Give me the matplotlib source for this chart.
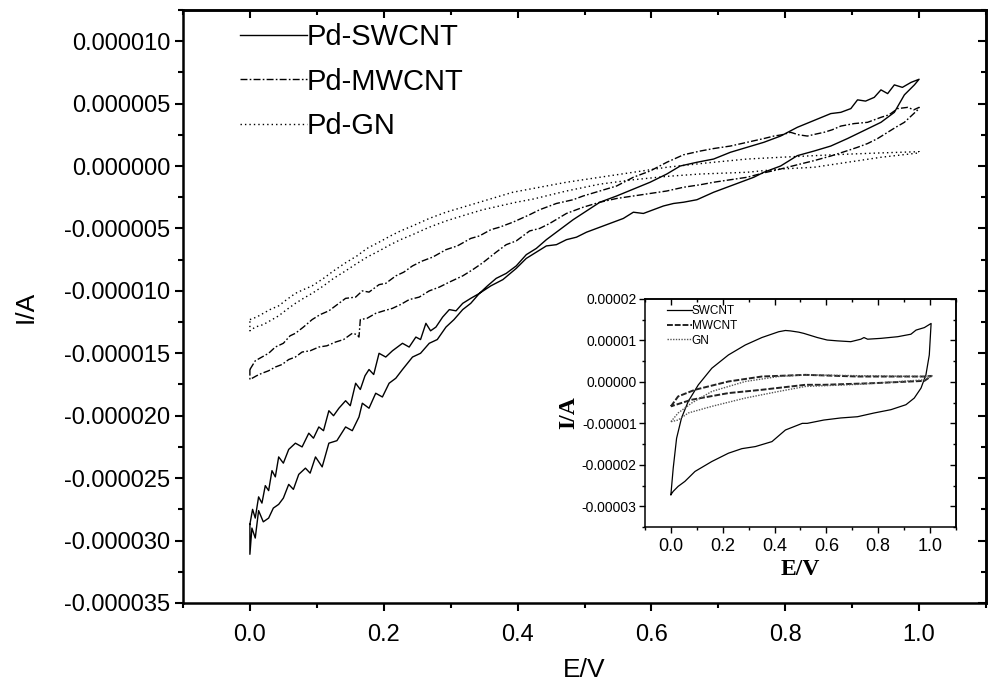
import numpy as np
import matplotlib
matplotlib.use("Agg")
import matplotlib.pyplot as plt
from matplotlib.ticker import MultipleLocator, FuncFormatter

plt.rcParams['font.family'] = ['Liberation Sans', 'DejaVu Sans']
plt.rcParams['axes.unicode_minus'] = False

# ---------------- main plot data (E in V, I in microamps) ----------------
swcnt_up_E = [0.000, 0.004, 0.008, 0.013, 0.018, 0.023, 0.028, 0.033, 0.038, 0.043, 0.050, 0.058, 0.068, 0.078,
              0.088, 0.095, 0.103, 0.110, 0.118, 0.125, 0.133, 0.143, 0.150, 0.158, 0.165, 0.172, 0.178, 0.185,
              0.193, 0.203, 0.213, 0.228, 0.238, 0.248, 0.255, 0.263, 0.270, 0.278, 0.288, 0.298, 0.308, 0.318,
              0.330, 0.343, 0.355, 0.368, 0.383, 0.398, 0.413, 0.428, 0.443, 0.463, 0.483, 0.503, 0.523, 0.548,
              0.573, 0.598, 0.623, 0.643, 0.668, 0.693, 0.718, 0.743, 0.768, 0.793, 0.818, 0.843, 0.868, 0.883,
              0.898, 0.908, 0.920, 0.933, 0.943, 0.953, 0.963, 0.975, 0.988, 1.000]
swcnt_up_I = [-28.7, -27.5, -28.2, -26.5, -27.0, -25.6, -26.0, -24.4, -24.9, -23.3, -23.8, -22.7, -22.2, -22.5,
              -21.4, -21.8, -20.9, -21.2, -19.6, -20.0, -19.4, -18.8, -19.2, -17.4, -17.9, -16.8, -16.3, -16.7,
              -15.0, -15.3, -14.8, -14.2, -14.5, -13.7, -13.9, -12.6, -13.2, -12.9, -12.1, -11.5, -11.6, -11.0,
              -10.6, -10.2, -9.6, -9.0, -8.6, -8.0, -7.1, -6.6, -5.9, -5.1, -4.3, -3.6, -2.9, -2.4,
              -1.85, -1.3, -0.64, 0.0, 0.3, 0.56, 1.1, 1.5, 1.9, 2.4, 3.1, 3.65, 4.2, 4.3,
              4.6, 5.3, 5.2, 5.5, 6.1, 5.8, 6.5, 6.3, 6.7, 6.95]
swcnt_dn_E = [0.000, 0.003, 0.008, 0.013, 0.020, 0.028, 0.035, 0.043, 0.050, 0.058, 0.065, 0.073, 0.083, 0.090,
              0.098, 0.108, 0.118, 0.130, 0.143, 0.153, 0.163, 0.168, 0.178, 0.188, 0.198, 0.208, 0.218, 0.228,
              0.243, 0.255, 0.268, 0.280, 0.293, 0.305, 0.318, 0.330, 0.343, 0.360, 0.378, 0.398, 0.413, 0.428,
              0.443, 0.458, 0.473, 0.488, 0.503, 0.523, 0.543, 0.558, 0.573, 0.588, 0.603, 0.618, 0.633, 0.648,
              0.668, 0.693, 0.713, 0.733, 0.753, 0.768, 0.793, 0.818, 0.843, 0.868, 0.893, 0.918, 0.943, 0.963,
              0.978, 0.993, 1.000]
swcnt_dn_I = [-31.1, -29.0, -29.8, -27.6, -28.5, -28.2, -27.4, -27.1, -26.6, -25.5, -25.9, -24.7, -24.2, -24.6,
              -23.3, -24.1, -22.2, -22.0, -20.9, -21.2, -20.1, -19.0, -19.4, -18.2, -18.5, -17.4, -17.0, -16.3,
              -15.3, -15.0, -14.2, -13.9, -12.9, -12.3, -11.5, -11.0, -10.2, -9.6, -9.1, -8.2, -7.4, -6.9,
              -6.4, -6.3, -5.9, -5.7, -5.3, -4.9, -4.5, -4.2, -3.7, -3.8, -3.5, -3.2, -3.0, -2.9,
              -2.7, -2.1, -1.7, -1.3, -0.9, -0.5, 0.0, 0.83, 1.2, 1.6, 2.2, 2.85, 3.5, 4.3,
              5.7, 6.5, 6.95]

mwcnt_up_E = [0.000, 0.008, 0.018, 0.028, 0.038, 0.050, 0.060, 0.068, 0.080, 0.093, 0.105, 0.118, 0.133, 0.143,
              0.158, 0.168, 0.178, 0.193, 0.203, 0.218, 0.230, 0.243, 0.258, 0.273, 0.293, 0.310, 0.330, 0.343,
              0.360, 0.373, 0.393, 0.418, 0.433, 0.458, 0.483, 0.498, 0.523, 0.548, 0.573, 0.598, 0.623, 0.648,
              0.673, 0.693, 0.718, 0.743, 0.768, 0.783, 0.795, 0.808, 0.820, 0.833, 0.845, 0.858, 0.870, 0.883,
              0.903, 0.923, 0.943, 0.955, 0.968, 0.983, 0.992, 1.000]
mwcnt_up_I = [-16.3, -15.6, -15.3, -15.0, -14.5, -14.2, -13.6, -13.4, -12.9, -12.3, -11.9, -11.6, -11.0, -10.6,
              -10.5, -10.0, -10.1, -9.5, -9.4, -8.8, -8.5, -8.0, -7.6, -7.3, -6.7, -6.4, -5.8, -5.6,
              -5.1, -4.9, -4.5, -3.9, -3.5, -3.0, -2.7, -2.4, -2.0, -1.6, -0.9, -0.4, 0.3, 0.9,
              1.2, 1.4, 1.6, 1.9, 2.2, 2.4, 2.5, 2.7, 2.5, 2.4, 2.55, 2.7, 2.9, 3.2,
              3.4, 3.5, 3.9, 4.1, 4.6, 4.7, 4.5, 4.7]
mwcnt_dn_E = [0.000, 0.010, 0.018, 0.028, 0.038, 0.048, 0.058, 0.068, 0.078, 0.090, 0.103, 0.115, 0.128, 0.140,
              0.153, 0.160, 0.163, 0.165, 0.175, 0.188, 0.200, 0.213, 0.225, 0.238, 0.253, 0.268, 0.283, 0.298,
              0.318, 0.333, 0.348, 0.368, 0.383, 0.398, 0.418, 0.433, 0.448, 0.473, 0.498, 0.523, 0.548, 0.573,
              0.598, 0.623, 0.648, 0.673, 0.693, 0.718, 0.743, 0.768, 0.793, 0.818, 0.843, 0.868, 0.893, 0.908,
              0.923, 0.938, 0.953, 0.965, 0.978, 0.990, 1.000]
mwcnt_dn_I = [-17.1, -16.8, -16.6, -16.4, -16.1, -15.9, -15.5, -15.3, -14.9, -14.8, -14.5, -14.4, -14.1, -13.9,
              -13.4, -13.5, -13.7, -12.3, -12.2, -11.8, -11.6, -11.4, -11.1, -10.7, -10.5, -10.0, -9.7, -9.3,
              -8.8, -8.3, -7.75, -6.9, -6.3, -6.0, -5.2, -5.0, -4.6, -3.8, -3.3, -2.9, -2.6, -2.4,
              -2.2, -2.0, -1.7, -1.5, -1.3, -1.1, -0.9, -0.55, -0.24, 0.1, 0.43, 0.8, 1.23, 1.5,
              1.8, 2.2, 2.7, 3.1, 3.5, 4.1, 4.6]

gn_up_E = [0.000, 0.010, 0.020, 0.030, 0.043, 0.055, 0.068, 0.080, 0.093, 0.110, 0.125, 0.143, 0.160, 0.175,
           0.193, 0.210, 0.225, 0.243, 0.268, 0.293, 0.318, 0.343, 0.368, 0.393, 0.423, 0.473, 0.523, 0.573,
           0.623, 0.683, 0.743, 0.793, 0.843, 0.893, 0.943, 1.000]
gn_up_I = [-12.3, -12.1, -11.8, -11.5, -11.2, -10.7, -10.2, -9.9, -9.6, -9.0, -8.4, -7.75, -7.2, -6.6,
           -6.1, -5.6, -5.2, -4.8, -4.2, -3.7, -3.3, -2.9, -2.5, -2.1, -1.8, -1.3, -0.9, -0.5,
           -0.1, 0.25, 0.56, 0.7, 0.83, 0.95, 1.05, 1.15]
gn_dn_E = [0.000, 0.008, 0.020, 0.030, 0.043, 0.055, 0.068, 0.080, 0.093, 0.110, 0.125, 0.143, 0.160, 0.175,
           0.193, 0.210, 0.225, 0.243, 0.268, 0.293, 0.323, 0.348, 0.373, 0.398, 0.423, 0.473, 0.523, 0.573,
           0.623, 0.673, 0.743, 0.793, 0.843, 0.893, 0.943, 1.000]
gn_dn_I = [-13.2, -12.9, -12.7, -12.4, -12.0, -11.5, -11.0, -10.6, -10.2, -9.6, -9.0, -8.4, -7.8, -7.3,
           -6.8, -6.3, -5.9, -5.5, -4.9, -4.4, -3.9, -3.5, -3.2, -2.9, -2.65, -2.0, -1.45, -1.1,
           -0.83, -0.64, -0.5, -0.24, -0.1, 0.3, 0.7, 1.05]

main_labels = ["Pd-SWCNT", "Pd-MWCNT", "Pd-GN"]

# ---------------- inset data (E in V, I in microamps) ----------------
in_sw_up_E = [0.000, 0.009, 0.022, 0.041, 0.067, 0.106, 0.158, 0.222, 0.287, 0.351, 0.416, 0.442, 0.461, 0.493,
              0.513, 0.565, 0.603, 0.642, 0.694, 0.733, 0.745, 0.759, 0.810, 0.875, 0.926, 0.946, 0.978, 1.004]
in_sw_up_I = [-27.2, -20.8, -13.6, -8.7, -4.7, -0.7, 3.3, 6.5, 8.9, 10.7, 12.1, 12.4, 12.3, 12.0,
              11.7, 10.7, 10.1, 9.9, 9.7, 10.3, 10.7, 10.3, 10.5, 10.9, 11.5, 12.5, 13.1, 14.1]
in_sw_dn_E = [0.000, 0.009, 0.028, 0.054, 0.093, 0.158, 0.222, 0.274, 0.326, 0.390, 0.442, 0.507, 0.526, 0.590,
              0.655, 0.720, 0.784, 0.849, 0.907, 0.939, 0.965, 0.984, 0.997, 1.004]
in_sw_dn_I = [-27.2, -26.4, -25.2, -24.0, -21.6, -19.2, -17.2, -16.1, -15.6, -14.4, -11.6, -10.0, -10.0, -9.2,
              -8.7, -8.4, -7.5, -6.7, -5.5, -3.9, -1.5, 1.7, 6.5, 14.1]
in_mw_up_E = [0.000, 0.028, 0.093, 0.222, 0.351, 0.519, 0.720, 0.978, 1.006]
in_mw_up_I = [-5.9, -3.5, -1.9, 0.1, 1.3, 1.7, 1.3, 1.3, 1.45]
in_mw_dn_E = [0.000, 0.080, 0.222, 0.351, 0.519, 0.590, 0.784, 0.978, 1.006]
in_mw_dn_I = [-5.9, -4.3, -2.7, -1.9, -0.7, -0.7, -0.3, 0.25, 1.45]
in_gn_up_E = [0.000, 0.028, 0.080, 0.158, 0.287, 0.416, 0.519, 0.720, 0.978, 1.006]
in_gn_up_I = [-9.6, -7.5, -5.1, -2.3, 0.1, 1.3, 1.7, 1.5, 1.3, 1.45]
in_gn_dn_E = [0.000, 0.028, 0.067, 0.158, 0.287, 0.416, 0.519, 0.720, 0.978, 1.006]
in_gn_dn_I = [-9.6, -9.2, -7.5, -5.9, -3.9, -2.3, -1.1, -0.6, 0.5, 1.45]

inset_labels = ["SWCNT", "MWCNT", "GN"]


def loop(upE, upI, dnE, dnI):
    E = np.concatenate([upE, dnE[::-1], upE[:1]])
    I = np.concatenate([upI, dnI[::-1], upI[:1]]) * 1e-6
    return E, I


DASHDOT = (0, (5, 1.6, 1.2, 1.6))
DOTTED = (0, (1.0, 2.2))

fig = plt.figure(figsize=(9.88, 6.87), dpi=100)
ax = fig.add_axes([0.1852, 0.1223, 0.8128, 0.8632])

for (uE, uI, dE, dI), ls, lab in [
        ((swcnt_up_E, swcnt_up_I, swcnt_dn_E, swcnt_dn_I), '-', main_labels[0]),
        ((mwcnt_up_E, mwcnt_up_I, mwcnt_dn_E, mwcnt_dn_I), DASHDOT, main_labels[1]),
        ((gn_up_E, gn_up_I, gn_dn_E, gn_dn_I), DOTTED, main_labels[2])]:
    E, I = loop(np.array(uE), np.array(uI), np.array(dE), np.array(dI))
    ax.plot(E, I, color='black', lw=1.0, linestyle=ls, label=lab)

ax.set_xlim(-0.1, 1.1)
ax.set_ylim(-35e-6, 12.5e-6)
ax.xaxis.set_major_locator(MultipleLocator(0.2))
ax.xaxis.set_minor_locator(MultipleLocator(0.1))
ax.yaxis.set_major_locator(MultipleLocator(5e-6))
ax.yaxis.set_minor_locator(MultipleLocator(2.5e-6))


def yfmt6(v, _):
    if abs(v) < 1e-12:
        v = 0.0
    return f"{v:.6f}"


ax.yaxis.set_major_formatter(FuncFormatter(yfmt6))
ax.xaxis.set_major_formatter(FuncFormatter(lambda v, _: f"{v:.1f}"))
for s in ax.spines.values():
    s.set_linewidth(1.8)
ax.tick_params(which='both', direction='out', width=1.5, labelsize=17, top=False, right=False)
ax.tick_params(which='major', length=6)
ax.tick_params(which='minor', length=3.5)
ax.tick_params(axis='x', pad=9)
ax.tick_params(axis='y', pad=3)
# mirrored inward ticks on top / right
axt = ax.secondary_xaxis('top')
axt.xaxis.set_major_locator(MultipleLocator(0.2))
axt.xaxis.set_minor_locator(MultipleLocator(0.1))
axt.tick_params(which='both', direction='in', width=1.5, labeltop=False)
axt.tick_params(which='major', length=6)
axt.tick_params(which='minor', length=3.5)
axt.spines['top'].set_linewidth(1.8)
axr = ax.secondary_yaxis('right')
axr.yaxis.set_major_locator(MultipleLocator(5e-6))
axr.yaxis.set_minor_locator(MultipleLocator(2.5e-6))
axr.tick_params(which='both', direction='in', width=1.5, labelright=False)
axr.tick_params(which='major', length=6)
axr.tick_params(which='minor', length=3.5)
axr.spines['right'].set_linewidth(1.8)

ax.set_xlabel("E/V", fontsize=19, labelpad=9)
ax.set_ylabel("I/A", fontsize=19, labelpad=19)

ax.legend(loc='upper left', bbox_to_anchor=(0.071, 0.978), frameon=False, fontsize=21,
          handlelength=2.3, handletextpad=0.0, labelspacing=0.57, borderpad=0, borderaxespad=0)

# ---------------- inset ----------------
ia = fig.add_axes([0.6528, 0.2329, 0.3148, 0.3319])
for (uE, uI, dE, dI), ls, lw, col, lab in [
        ((in_sw_up_E, in_sw_up_I, in_sw_dn_E, in_sw_dn_I), '-', 0.9, 'black', inset_labels[0]),
        ((in_mw_up_E, in_mw_up_I, in_mw_dn_E, in_mw_dn_I), (0, (3, 1)), 1.4, '#222222', inset_labels[1]),
        ((in_gn_up_E, in_gn_up_I, in_gn_dn_E, in_gn_dn_I), (0, (1, 1)), 1.0, '#555555', inset_labels[2])]:
    E, I = loop(np.array(uE), np.array(uI), np.array(dE), np.array(dI))
    ia.plot(E, I, color=col, lw=lw, linestyle=ls, label=lab)

ia.set_xlim(-0.1, 1.1)
ia.set_ylim(-35e-6, 20e-6)
ia.xaxis.set_major_locator(MultipleLocator(0.2))
ia.xaxis.set_minor_locator(MultipleLocator(0.1))
ia.yaxis.set_major_locator(MultipleLocator(1e-5))
ia.yaxis.set_minor_locator(MultipleLocator(5e-6))


def yfmt5(v, _):
    if abs(v) < 1e-12:
        v = 0.0
    return f"{v:.5f}"


ia.yaxis.set_major_formatter(FuncFormatter(yfmt5))
ia.xaxis.set_major_formatter(FuncFormatter(lambda v, _: f"{v:.1f}"))
for s in ia.spines.values():
    s.set_linewidth(1.1)
ia.tick_params(which='both', direction='out', width=1.0, top=False, right=False)
ia.tick_params(which='major', length=4)
ia.tick_params(which='minor', length=2.5)
ia.tick_params(axis='y', labelsize=10, pad=2)
ia.tick_params(axis='x', labelsize=13, pad=4)
iat = ia.secondary_xaxis('top')
iat.xaxis.set_major_locator(MultipleLocator(0.2))
iat.xaxis.set_minor_locator(MultipleLocator(0.1))
iat.tick_params(which='both', direction='in', width=1.0, labeltop=False)
iat.tick_params(which='major', length=4)
iat.tick_params(which='minor', length=2.5)
iat.spines['top'].set_linewidth(1.1)
iar = ia.secondary_yaxis('right')
iar.yaxis.set_major_locator(MultipleLocator(1e-5))
iar.yaxis.set_minor_locator(MultipleLocator(5e-6))
iar.tick_params(which='both', direction='in', width=1.0, labelright=False)
iar.tick_params(which='major', length=4)
iar.tick_params(which='minor', length=2.5)
iar.spines['right'].set_linewidth(1.1)

ia.set_xlabel("E/V", fontsize=17, fontweight='bold', family=['Liberation Serif'], labelpad=3)
ia.set_ylabel("I/A", fontsize=17, fontweight='bold', family=['Liberation Serif'], labelpad=2)
ia.legend(loc='upper left', bbox_to_anchor=(0.07, 0.975), frameon=False, fontsize=8.5,
          handlelength=2.1, handletextpad=0.0, labelspacing=0.25, borderpad=0, borderaxespad=0)

fig.savefig("out.png", dpi=100)
